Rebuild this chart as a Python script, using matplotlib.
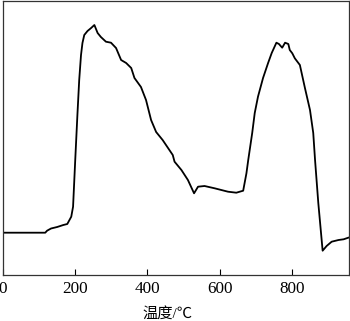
import matplotlib
matplotlib.use('Agg')
from matplotlib import pyplot as plt

# temperature (°C) and signal (arbitrary units)
temp = [0, 117, 122, 133, 150, 167, 178, 189, 194, 200, 206, 211, 216, 220, 225, 234, 244,
        253, 262, 271, 285, 299, 313, 327, 341, 355, 364, 382, 396, 410, 424, 442,
        470, 475, 494, 512, 529, 540, 558, 586, 623, 646, 665, 674, 679, 690, 697,
        706, 720, 734, 744, 757, 764, 773, 781, 790, 794, 801, 808, 822, 836, 850,
        859, 864, 873, 885, 896, 910, 929, 943, 956]
signal = [42.3, 42.3, 44.3, 46.5, 48, 50, 51, 58.3, 68.3, 115, 160, 195, 220, 232, 240, 244, 247,
          250, 242, 238, 233.3, 232.3, 227, 215, 212, 207, 197, 188, 175, 155, 143, 135,
          120, 113.3, 105, 95, 81.7, 88.3, 89, 86.7, 83.3, 82.3, 84.3, 101.7, 115, 142, 162,
          178.3, 197, 212, 222, 232.3, 231, 227.3, 232.3, 231, 225, 221.7, 216.7, 210, 187, 165,
          142, 115, 72, 24.3, 29, 33.3, 35, 35.7, 37.3]
xticks = [0, 200, 400, 600, 800]

plt.rcParams['font.family'] = ['Liberation Serif', 'Noto Sans CJK SC']

fig = plt.figure(figsize=(3.5, 3.21), dpi=100)
ax = fig.add_axes([3 / 350, 46 / 321, 346 / 350, 274 / 321])
ax.plot(temp, signal, color='black', linewidth=1.3)
ax.set_xlim(0, 958)
ax.set_ylim(0, 274)
ax.set_xticks(xticks)
ax.set_yticks([])
ax.tick_params(axis='x', direction='in', length=4, labelsize=12.3, pad=4)
for s in ax.spines.values():
    s.set_linewidth(0.9)
    s.set_color('#333333')
ax.set_xlabel('温度/℃', fontsize=11)
ax.xaxis.set_label_coords(0.474, -0.115)
fig.savefig('out.png', dpi=100)
